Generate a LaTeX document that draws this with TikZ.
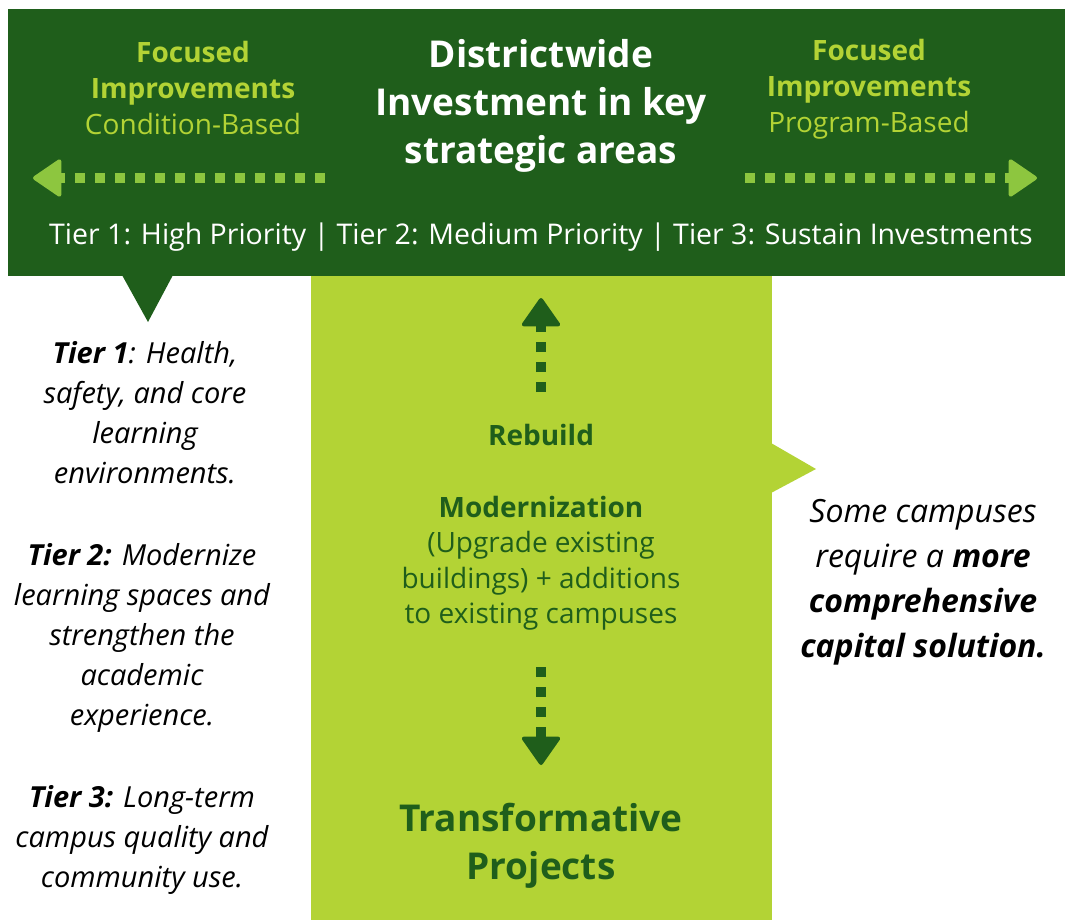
\documentclass[tikz,border=0pt]{standalone}
\usepackage{fontspec}
\setmainfont{Open Sans}
\usetikzlibrary{arrows.meta}
\definecolor{darkgreen}{HTML}{1F5E1B}
\definecolor{limegreen}{HTML}{B3D335}
\definecolor{arrowgreen}{HTML}{8DC63F}
\tikzset{
  hflow/.style={arrowgreen, line width=10pt, dash pattern=on 10pt off 10pt,
    -{Triangle[width=40pt,length=30pt,line width=4pt,round]}},
  vflow/.style={darkgreen, line width=10pt, dash pattern=on 10pt off 10pt,
    -{Triangle[width=41pt,length=30pt,line width=4pt,round]}},
  sidehead/.style={align=center, text=limegreen, font=\fontsize{28}{36}\selectfont},
  tiertext/.style={align=center, font=\fontsize{29}{40}\selectfont\itshape},
  stagetext/.style={align=center, text=darkgreen, font=\fontsize{28}{35.5}\selectfont},
}
\begin{document}
\begin{tikzpicture}[x=1pt,y=-1pt]
                \useasboundingbox (0,0) rectangle (1065,920);
                \fill[limegreen] (311,276) rectangle (772,920);
                \fill[darkgreen] (8,9) rectangle (1065,276);
                \fill[darkgreen] (122,275) -- (173,275) -- (148,322) -- cycle;
                \fill[limegreen] (771,443) -- (816,469) -- (771,493) -- cycle;

                \node[sidehead] (condition) at (193,88) {\textbf{Focused}\\\textbf{Improvements}\\Condition-Based};
                \node[align=center,text=white,font=\fontsize{37}{48}\selectfont\bfseries] (district) at (541,106) {Districtwide\\Investment in key\\strategic areas};
                \node[sidehead] (program) at (869,89) {\textbf{Focused}\\\textbf{Improvements}\\Program-Based};
                \node[text=white,font=\fontsize{28.5}{32}\selectfont] (tiers) at (541,237) {Tier 1: High Priority | Tier 2: Medium Priority | Tier 3: Sustain Investments};

                \coordinate (lstart) at (325,178);
                \coordinate (ltip) at (33,178);
                \coordinate (rstart) at (745,178);
                \coordinate (rtip) at (1037,178);
                \draw[hflow] (lstart) -- (ltip);
                \draw[hflow] (rstart) -- (rtip);

                \node[tiertext] (tier1) at (145,413) {\textbf{Tier 1}: Health,\\safety, and core\\learning\\environments.};
                \node[tiertext] (tier2) at (142,638) {\textbf{Tier 2:} Modernize\\learning spaces and\\strengthen the\\academic\\experience.};
                \node[tiertext] (tier3) at (142,840) {\textbf{Tier 3:} Long-term\\campus quality and\\community use.};

                \node[stagetext,font=\fontsize{28}{35}\selectfont\bfseries] (rebuild) at (541,435) {Rebuild};
                \node[stagetext] (modern) at (541,563) {\textbf{Modernization}\\(Upgrade existing\\buildings) + additions\\to existing campuses};
                \node[stagetext,font=\fontsize{37}{48}\selectfont\bfseries] (transform) at (541,846) {Transformative\\Projects};

                \coordinate (ustart) at (541,392);
                \coordinate (utip) at (541,298);
                \coordinate (dstart) at (541,667);
                \coordinate (dtip) at (541,765);
                \draw[vflow] (ustart) -- (utip);
                \draw[vflow] (dstart) -- (dtip);

                \node[align=center,font=\fontsize{32}{45}\selectfont\itshape] (capital) at (923,582) {Some campuses\\require a \textbf{more}\\\textbf{comprehensive}\\\textbf{capital solution.}};
            \end{tikzpicture}
\end{document}
